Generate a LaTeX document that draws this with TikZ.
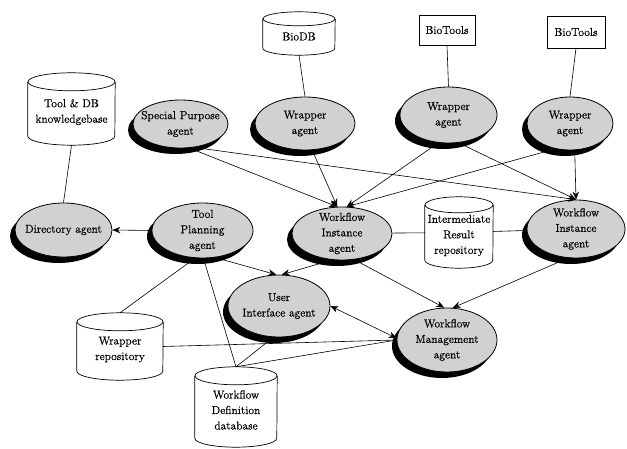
\documentclass[tikz,border=0pt]{standalone}
\usepackage{fontspec}
\newfontfamily\agentfam{Latin Modern Roman}[FakeBold=0.6]
\usetikzlibrary{shapes.geometric,shadows,arrows.meta,calc}
\pgfdeclarelayer{bg}
\pgfsetlayers{bg,main}
\newcommand\agentfont{\agentfam\fontsize{11.5}{15.5}\selectfont}
\newcommand\mycyl[3]{%
 \begin{pgfonlayer}{bg}
 \path[fill=white] ($(#1.north west)+(0,-#3)$) -- ($(#1.south west)+(0,#3)$) arc[start angle=180,end angle=360,x radius=#2,y radius=#3] -- ($(#1.north east)+(0,-#3)$) arc[start angle=0,end angle=180,x radius=#2,y radius=#3] -- cycle;
 \draw[cylline] ($(#1.north west)+(0,-#3)$) -- ($(#1.south west)+(0,#3)$) arc[start angle=180,end angle=360,x radius=#2,y radius=#3] -- ($(#1.north east)+(0,-#3)$);
 \draw[cylline] ($(#1.north)+(0,-#3)$) ellipse[x radius=#2,y radius=#3];
 \end{pgfonlayer}}
\tikzset{
 agent/.style={ellipse, draw, line width=0.8pt, fill=black!18, inner xsep=-6pt, inner ysep=-2pt, align=center, font=\agentfont,
   drop shadow={shadow xshift=-5pt,shadow yshift=-6pt,fill=black,opacity=1}},
 bt/.style={rectangle, draw, line width=0.6pt, fill=white, font=\agentfont},
 db/.style={rectangle, inner sep=0pt},
 dbtext/.style={align=center, font=\agentfont, yshift=-3pt},
 cylline/.style={line width=0.7pt},
 conn/.style={line width=0.6pt},
 arr/.style={conn, -{Stealth[length=8pt,width=6.5pt]}},
 arrb/.style={conn, {Stealth[length=8pt,width=6.5pt]}-{Stealth[length=8pt,width=6.5pt]}}
}
\begin{document}
\begin{tikzpicture}[x=1pt,y=1pt]
\useasboundingbox (0,0) rectangle (627,448);
% databases
\node[db, minimum width=87pt, minimum height=72pt, label={[dbtext]center:Tool \& DB\\knowledgebase}] (tdb) at (71.5,339) {};
\node[db, minimum width=72pt, minimum height=43pt, label={[dbtext]center:BioDB}] (biodb) at (299,414.5) {};
\node[db, minimum width=68pt, minimum height=71pt, label={[dbtext]center:Intermediate\\Result\\repository}] (irr) at (459,215.5) {};
\node[db, minimum width=86pt, minimum height=67pt, label={[dbtext]center:Wrapper\\repository}] (wr) at (120,101.5) {};
\node[db, minimum width=82pt, minimum height=80pt, label={[dbtext]center:Workflow\\Definition\\database}] (wdd) at (236,41) {};
\mycyl{tdb}{43.5}{9}
\mycyl{biodb}{36}{7}
\mycyl{irr}{34}{8}
\mycyl{wr}{43}{9}
\mycyl{wdd}{41}{9}
% tools
\node[bt, minimum width=56pt, minimum height=30pt] (bt1) at (447,418) {BioTools};
\node[bt, minimum width=58pt, minimum height=32pt] (bt2) at (576,416) {BioTools};
% agents
\node[agent, minimum width=95pt, minimum height=48pt] (sp) at (180.5,324) {Special Purpose\\agent};
\node[agent, minimum width=100pt, minimum height=53pt] (w1) at (305,324.5) {Wrapper\\agent};
\node[agent, minimum width=97pt, minimum height=56pt] (w2) at (448.5,333) {Wrapper\\agent};
\node[agent, minimum width=86pt, minimum height=53pt] (w3) at (570,324.5) {Wrapper\\agent};
\node[agent, minimum width=97pt, minimum height=54pt] (dir) at (63.5,218) {Directory agent};
\node[agent, minimum width=101pt, minimum height=55pt] (tp) at (202.5,217.5) {Tool\\Planning\\agent};
\node[agent, minimum width=100pt, minimum height=53pt] (wial) at (342,214.5) {Workflow\\Instance\\agent};
\node[agent, minimum width=98pt, minimum height=58pt] (wiar) at (576,219) {Workflow\\Instance\\agent};
\node[agent, minimum width=102pt, minimum height=62pt] (ui) at (279,142) {User\\Interface agent};
\node[agent, minimum width=100pt, minimum height=64pt] (wma) at (447,108) {Workflow\\Management\\agent};
% connectors
\draw[conn] (tdb.south) -- (dir.north);
\draw[conn] (biodb.south) -- (w1.north);
\draw[conn] (bt1.south) -- (w2.north);
\draw[conn] (bt2.south) -- (w3.north);
\draw[arr] (tp.west) -- (dir.east);
\draw[arr] (sp.-70) -- (wial.100);
\draw[arr] (sp.-60) -- (wiar.north);
\draw[arr] (w1.-75) -- (wial.100);
\draw[arr] (w2.-110) -- (wial.80);
\draw[arr] (w2.-70) -- (wiar.north);
\draw[arr] (w3.-120) -- (wial.80);
\draw[arr] (w3.-80) -- (wiar.north);
\draw[conn] (wial) -- (irr);
\draw[conn] (irr) -- (wiar);
\draw[arr] (wial.-110) -- (ui.85);
\draw[arr] (tp.-65) -- (ui.95);
\draw[arr] (wial.-65) -- (wma.95);
\draw[arr] (wiar.-105) -- (wma.80);
\draw[arrb] (ui.east) -- (wma.178);
\draw[conn] (wr.east) -- (wma.west);
\draw[conn] (tp.-105) -- (wr.north);
\draw[conn] (tp.-88) -- (wdd.north);
\draw[conn] (ui.-100) -- (wdd.north);
\draw[conn] (wdd.north) -- (wma.west);
\end{tikzpicture}
\end{document}
